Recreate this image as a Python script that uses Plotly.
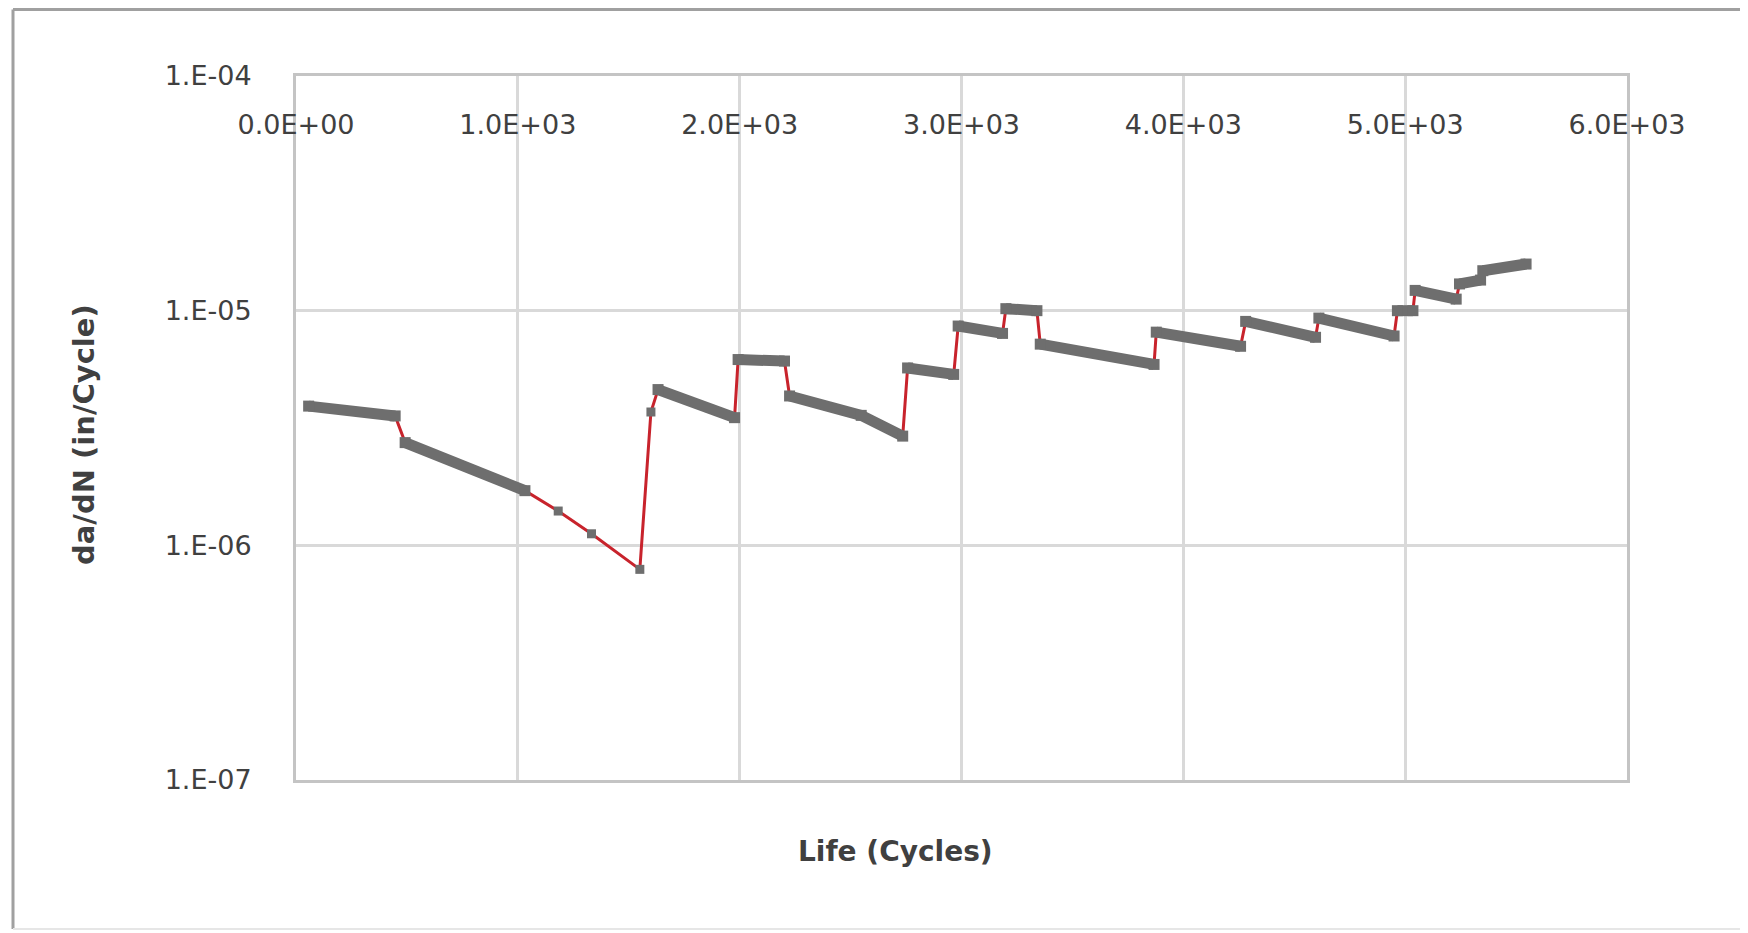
import plotly.graph_objects as go

# Crack growth rate vs. life
life = [57, 447, 492, 1032, 1182, 1332, 1550, 1600, 1632, 1977, 1993, 2202,
        2225, 2548, 2735, 2757, 2965, 2985, 3185, 3200, 3340, 3355, 3868,
        3878, 4258, 4281, 4596, 4611, 4950, 4965, 5035, 5045, 5230, 5245,
        5340, 5350, 5545]
dadn = [3.92e-6, 3.56e-6, 2.74e-6, 1.71e-6, 1.40e-6, 1.12e-6, 7.9e-7, 3.7e-6,
        4.61e-6, 3.50e-6, 6.19e-6, 6.10e-6, 4.33e-6, 3.58e-6, 2.92e-6, 5.70e-6,
        5.35e-6, 8.6e-6, 8.0e-6, 1.02e-5, 1.0e-5, 7.2e-6, 5.9e-6, 8.1e-6,
        7.05e-6, 9.0e-6, 7.7e-6, 9.3e-6, 7.8e-6, 1.0e-5, 1.0e-5, 1.22e-5,
        1.12e-5, 1.3e-5, 1.35e-5, 1.48e-5, 1.58e-5]
# dense-data band each point belongs to (0 = isolated point)
band = [1, 1, 2, 2, 0, 0, 0, 0, 3, 3, 4, 4, 5, 5, 5, 6, 6, 7, 7, 8, 8, 9, 9,
        10, 10, 11, 11, 12, 12, 13, 13, 14, 14, 15, 15, 16, 16]

x_ticks = [0, 1000, 2000, 3000, 4000, 5000, 6000]
x_labels = ["0.0E+00", "1.0E+03", "2.0E+03", "3.0E+03", "4.0E+03", "5.0E+03", "6.0E+03"]
y_ticks = [1e-7, 1e-6, 1e-5, 1e-4]
y_labels = ["1.E-07", "1.E-06", "1.E-05", "1.E-04"]

GRAY = "#6e6e6e"
RED = "#c8232c"
TXT = "#404040"

# dense bands drawn as thick gray segments
bx, by = [], []
last = None
for xv, yv, b in zip(life, dadn, band):
    if b == 0:
        continue
    if last is not None and b != last:
        bx.append(None)
        by.append(None)
    bx.append(xv)
    by.append(yv)
    last = b

sx = [xv for xv, b in zip(life, band) if b == 0]
sy = [yv for yv, b in zip(dadn, band) if b == 0]

fig = go.Figure()
fig.add_trace(go.Scatter(x=life, y=dadn, mode="lines",
                         line=dict(color=RED, width=3), hoverinfo="skip"))
fig.add_trace(go.Scatter(x=bx, y=by, mode="lines+markers",
                         line=dict(color=GRAY, width=11),
                         marker=dict(color=GRAY, size=11, symbol="square"),
                         connectgaps=False))
fig.add_trace(go.Scatter(x=sx, y=sy, mode="markers",
                         marker=dict(color=GRAY, size=9, symbol="square")))

# page body has an 8px margin, so the figure is laid out 8px smaller
W, H = 1740, 925
L, R, T, B = 288, 1619, 68, 772

def px(X):
    return (X - L) / (R - L)

def py(Y):
    return (B - Y) / (B - T)

fig.update_layout(
    width=W, height=H, autosize=False,
    margin=dict(l=L, r=W - R, t=T, b=H - B, pad=0),
    paper_bgcolor="white", plot_bgcolor="white",
    showlegend=False,
    font=dict(family="DejaVu Sans", color=TXT),
    xaxis=dict(
        range=[0, 6000], side="top", tickvals=x_ticks, ticktext=x_labels,
        showgrid=True, gridcolor="#d9d9d9", gridwidth=3,
        showline=True, mirror=True, linecolor="#c4c4c4", linewidth=3,
        ticks="", ticklabelposition="inside", ticklabelstandoff=42,
        ticklabeloverflow="allow", zeroline=False,
        tickfont=dict(family="DejaVu Sans", size=27, color=TXT),
    ),
    yaxis=dict(
        type="log", range=[-7, -4], tickvals=y_ticks, ticktext=y_labels,
        showgrid=True, gridcolor="#d9d9d9", gridwidth=3,
        showline=True, mirror=True, linecolor="#c4c4c4", linewidth=3,
        ticks="", ticklabelstandoff=36, zeroline=False,
        tickfont=dict(family="DejaVu Sans", size=27, color=TXT),
    ),
    annotations=[
        dict(text="<b>Life (Cycles)</b>", xref="paper", yref="paper",
             x=px(887), y=py(843), xanchor="center", yanchor="middle",
             showarrow=False,
             font=dict(family="DejaVu Sans", size=28, color=TXT)),
        dict(text="<b>da/dN (in/Cycle)</b>", xref="paper", yref="paper",
             x=px(76), y=py(427), xanchor="center", yanchor="middle",
             showarrow=False, textangle=-90,
             font=dict(family="DejaVu Sans", size=29, color=TXT)),
    ],
    shapes=[
        dict(type="line", xref="paper", yref="paper", x0=px(5), x1=px(5),
             y0=py(1.5), y1=py(921), line=dict(color="#a0a0a0", width=3)),
        dict(type="line", xref="paper", yref="paper", x0=px(5), x1=px(1734),
             y0=py(1.5), y1=py(1.5), line=dict(color="#a0a0a0", width=3)),
        dict(type="line", xref="paper", yref="paper", x0=px(1734), x1=px(1734),
             y0=py(1.5), y1=py(921), line=dict(color="#e6e6e6", width=2)),
        dict(type="line", xref="paper", yref="paper", x0=px(5), x1=px(1734),
             y0=py(921), y1=py(921), line=dict(color="#e6e6e6", width=2)),
    ],
)

fig.write_html("out.html")
